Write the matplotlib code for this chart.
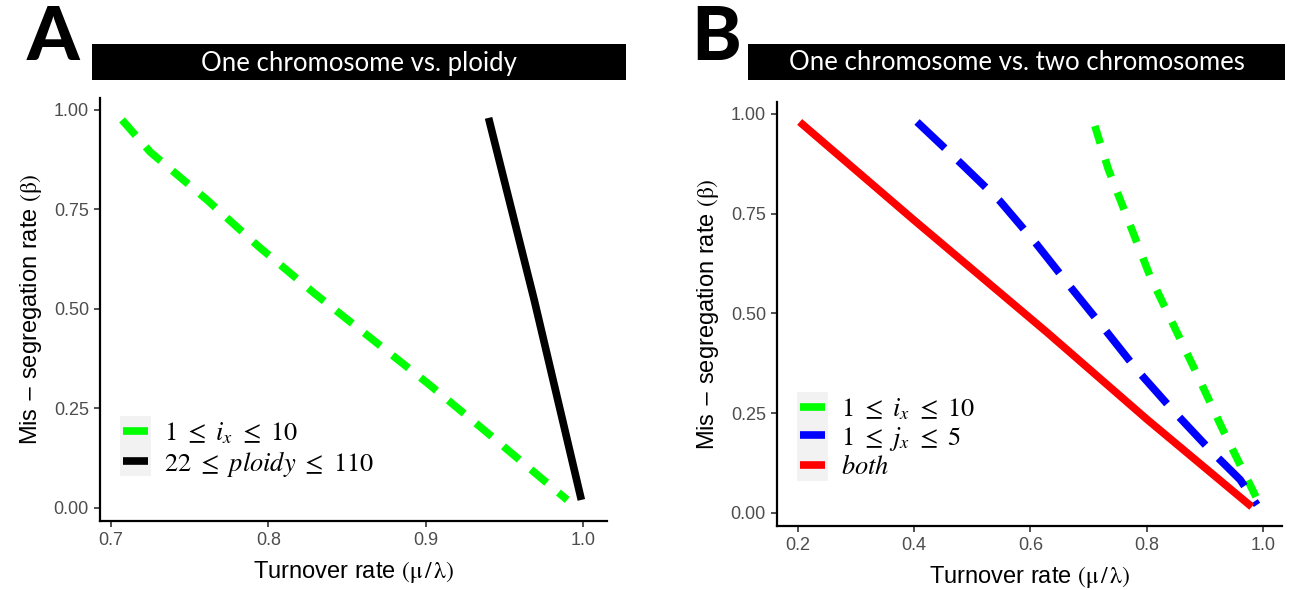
import numpy as np
import matplotlib.pyplot as plt
from matplotlib.patches import Rectangle
from matplotlib.lines import Line2D

# ---- data ----
# panel A: one chromosome vs. ploidy
a_ix_x = [0.707, 0.725, 0.761, 0.794, 0.829, 0.865, 0.901, 0.937, 0.971, 0.990]
a_ix_y = [0.975, 0.894, 0.774, 0.656, 0.540, 0.427, 0.314, 0.196, 0.083, 0.020]
a_ploidy_x = [0.940, 0.969, 0.999]
a_ploidy_y = [0.980, 0.523, 0.020]

# panel B: one chromosome vs. two chromosomes
b_ix_x = [0.711, 0.734, 0.806, 0.883, 0.931, 0.995]
b_ix_y = [0.970, 0.862, 0.593, 0.359, 0.209, 0.020]
b_jx_x = [0.405, 0.482, 0.548, 0.611, 0.668, 0.728, 0.783, 0.844, 0.909, 0.961, 0.990]
b_jx_y = [0.980, 0.874, 0.781, 0.673, 0.568, 0.460, 0.359, 0.259, 0.158, 0.083, 0.020]
b_both_x = [0.203, 0.398, 0.629, 0.801, 0.981]
b_both_y = [0.980, 0.736, 0.452, 0.234, 0.015]

a_xticks = [0.7, 0.8, 0.9, 1.0]
b_xticks = [0.2, 0.4, 0.6, 0.8, 1.0]
yticks = [0.0, 0.25, 0.5, 0.75, 1.0]

titles = ['One chromosome vs. ploidy', 'One chromosome vs. two chromosomes']
panel_tags = ['A', 'B']

GREEN = '#00FF00'
BLUE = '#0000FF'
RED = '#FF0000'

plt.rcParams['font.family'] = ['Liberation Sans', 'DejaVu Sans']
plt.rcParams['mathtext.fontset'] = 'stix'

W, H = 1290, 590
fig = plt.figure(figsize=(W / 100, H / 100), dpi=100)

def px_axes(l, r, b, t):
    return fig.add_axes([l / W, 1 - b / H, (r - l) / W, (b - t) / H])

axA = px_axes(100, 607, 521, 98)
axB = px_axes(777, 1282, 526, 102)

lw = 5.5
axA.plot(a_ix_x, a_ix_y, color=GREEN, lw=lw, ls=(0, (2.7, 2.0)), solid_capstyle='butt')
axA.plot(a_ploidy_x, a_ploidy_y, color='black', lw=lw, solid_capstyle='butt')

axB.plot(b_ix_x, b_ix_y, color=GREEN, lw=lw, ls=(0, (2.4, 2.2)))
axB.plot(b_jx_x, b_jx_y, color=BLUE, lw=lw, ls=(0, (5.0, 2.4)))
axB.plot(b_both_x, b_both_y, color=RED, lw=lw, solid_capstyle='butt')

axA.set_xlim(0.693, 1.0153)
axB.set_xlim(0.164, 1.033)
for ax, xt in [(axA, a_xticks), (axB, b_xticks)]:
    ax.set_ylim(-0.033, 1.03)
    ax.set_xticks(xt)
    ax.set_xticklabels([f'{v:.1f}' for v in xt])
    ax.set_yticks(yticks)
    ax.set_yticklabels([f'{v:.2f}' for v in yticks])
    for s in ['top', 'right']:
        ax.spines[s].set_visible(False)
    for s in ['left', 'bottom']:
        ax.spines[s].set_linewidth(1.6)
    ax.tick_params(labelsize=13, labelcolor='#4D4D4D', color='#333333',
                   length=4, width=1.2, pad=4)
    ax.set_xlabel(r'Turnover rate $\left(\mathrm{\mu}\,/\,\mathrm{\lambda}\right)$',
                  fontsize=17, labelpad=7)
    ax.set_ylabel(r'Mis $-$ segregation rate $\left(\mathrm{\beta}\right)$',
                  fontsize=17, labelpad=7)

# legends
def add_legend(ax, colors, labels, anchor, rowh):
    hs = [Line2D([], [], color=c, lw=lw, solid_capstyle='butt') for c in colors]
    leg = ax.legend(hs, labels, loc='lower left', bbox_to_anchor=anchor,
                    frameon=False, fontsize=19, handlelength=0.95,
                    handletextpad=0.6, labelspacing=0.1, borderpad=0,
                    borderaxespad=0)
    fig.canvas.draw()
    r = fig.canvas.get_renderer()
    bbs = [h.get_window_extent(r) for h in leg.legend_handles]
    x0 = min(b.x0 for b in bbs) - 3
    x1 = max(b.x1 for b in bbs) + 3
    cy = [(b.y0 + b.y1) / 2 for b in bbs]
    y0 = min(cy) - rowh / 2
    y1 = max(cy) + rowh / 2
    inv = ax.transAxes.inverted()
    (ax0, ay0), (ax1, ay1) = inv.transform([(x0, y0), (x1, y1)])
    ax.add_patch(Rectangle((ax0, ay0), ax1 - ax0, ay1 - ay0, transform=ax.transAxes,
                           facecolor='#F2F2F2', edgecolor='none', zorder=4,
                           clip_on=False))

add_legend(axA, [GREEN, 'black'],
           [r'$1\ \leq\ i_x\ \leq\ 10$', r'$22\ \leq\ ploidy\ \leq\ 110$'],
           (0.045, 0.10), 30)
add_legend(axB, [GREEN, BLUE, RED],
           [r'$1\ \leq\ i_x\ \leq\ 10$', r'$1\ \leq\ j_x\ \leq\ 5$', r'$both$'],
           (0.045, 0.11), 31)

# title bars and panel letters
bars = [(92, 626), (748, 1285)]
for (x0, x1), title in zip(bars, titles):
    fig.patches.append(Rectangle((x0 / W, 1 - 80 / H), (x1 - x0) / W, 36 / H,
                                 transform=fig.transFigure, facecolor='black',
                                 edgecolor='none'))
    fig.text((x0 + x1) / 2 / W, 1 - 63 / H, title, color='white', fontsize=18.5,
             family='Lato', ha='center', va='center')

for x, tag in zip([53, 716], panel_tags):
    fig.text(x / W, 1 - 38 / H, tag, fontsize=54, family='Lato', weight='black',
             ha='center', va='center')

fig.savefig('out.png', dpi=100)
